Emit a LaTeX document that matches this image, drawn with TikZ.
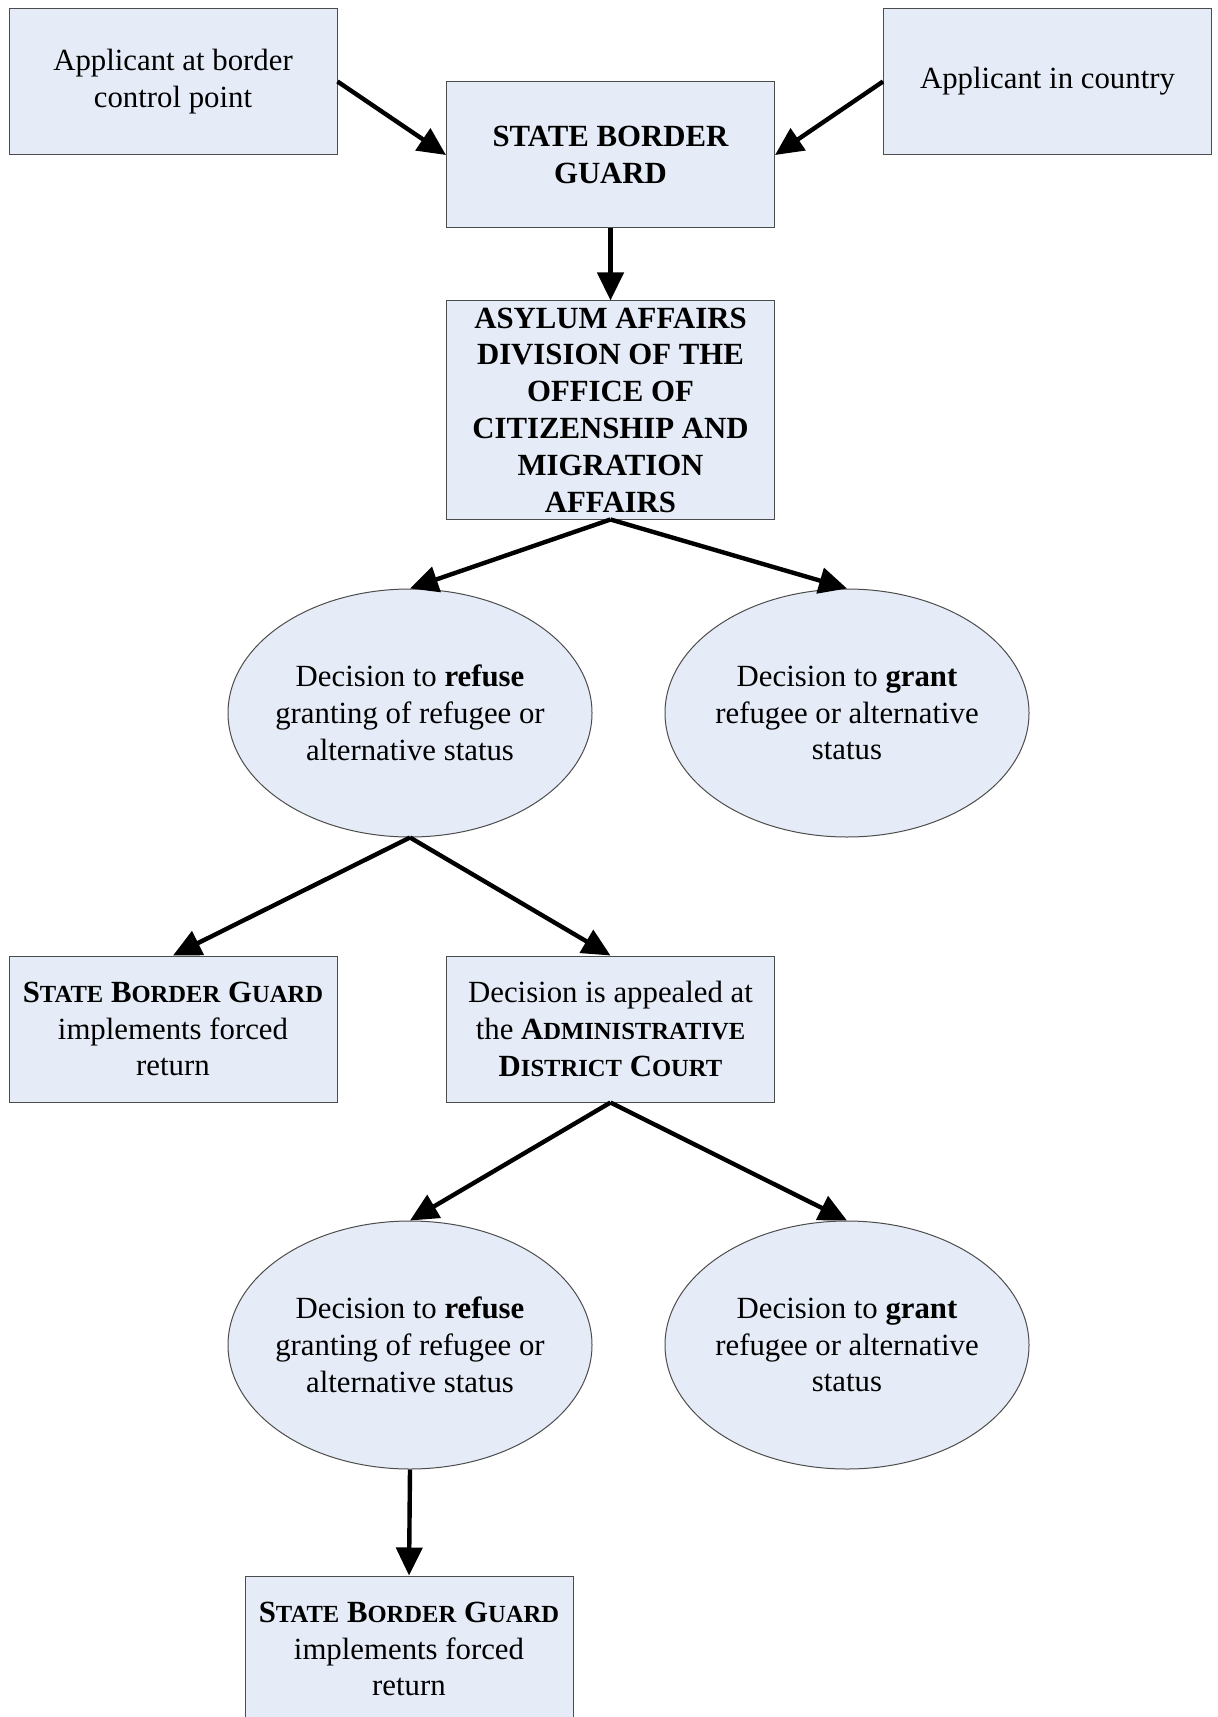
\documentclass[tikz,border=0pt]{standalone}
\usepackage{fontspec}
\setmainfont{Liberation Serif}
\usetikzlibrary{arrows.meta,shapes.geometric}
\definecolor{boxfill}{RGB}{230,236,247}
\newcommand{\smc}[1]{{\fontsize{12.3}{18.5}\selectfont #1}}

\begin{document}
\begin{tikzpicture}[x=0.5pt, y=-0.5pt, every node/.style={font=\fontsize{15.4}{18.4}\selectfont, align=center}, >={Triangle[length=14pt,width=13pt]},
	box/.style={draw=black!70, fill=boxfill, line width=0.5pt, minimum width=164pt, minimum height=73pt, inner sep=0pt},
	oval/.style={ellipse, draw=black!70, fill=boxfill, line width=0.5pt, minimum width=182pt, minimum height=124pt, inner xsep=-3pt, inner ysep=0pt},
	heavy/.style={font=\fontsize{15.4}{18.4}\selectfont\bfseries},
	flow/.style={->, line width=2.2pt}]
	\useasboundingbox (0,0) rectangle (1218,1717);
	\node[box] (a) at (173,81.5) {Applicant at border\\control point};
	\node[box, heavy] (b) at (610.5,155) {STATE BORDER\\GUARD};
	\node[box] (c) at (1047.5,81.5) {Applicant in country};
	\node[box, heavy, minimum height=109pt] (d) at (610.5,410) {ASYLUM AFFAIRS\\DIVISION OF THE\\OFFICE OF\\CITIZENSHIP AND\\MIGRATION\\AFFAIRS};
	\node[oval] (e) at (410,713) {Decision to \textbf{refuse}\\granting of refugee or\\alternative status};
	\node[oval] (f) at (847,713) {Decision to \textbf{grant}\\refugee or alternative\\status};
	\node[box] (g) at (173,1029) {\textbf{S\smc{TATE} B\smc{ORDER} G\smc{UARD}}\\implements forced\\return};
	\node[box] (h) at (610.5,1029) {Decision is appealed at\\the \textbf{A\smc{DMINISTRATIVE}}\\\textbf{D\smc{ISTRICT} C\smc{OURT}}};
	\node[oval] (i) at (410,1345) {Decision to \textbf{refuse}\\granting of refugee or\\alternative status};
	\node[oval] (j) at (847,1345) {Decision to \textbf{grant}\\refugee or alternative\\status};
	\node[box] (k) at (409,1649) {\textbf{S\smc{TATE} B\smc{ORDER} G\smc{UARD}}\\implements forced\\return};
	\draw[flow] (a.east) -- (b.west);
	\draw[flow] (c.west) -- (b.east);
	\draw[flow] (b.south) -- (d.north);
	\draw[flow] (d.south) -- (e.north);
	\draw[flow] (d.south) -- (f.north);
	\draw[flow] (e.south) -- (g.north);
	\draw[flow] (e.south) -- (h.north);
	\draw[flow] (h.south) -- (i.north);
	\draw[flow] (h.south) -- (j.north);
	\draw[flow] (i.south) -- (k.north);
\end{tikzpicture}
\end{document}
